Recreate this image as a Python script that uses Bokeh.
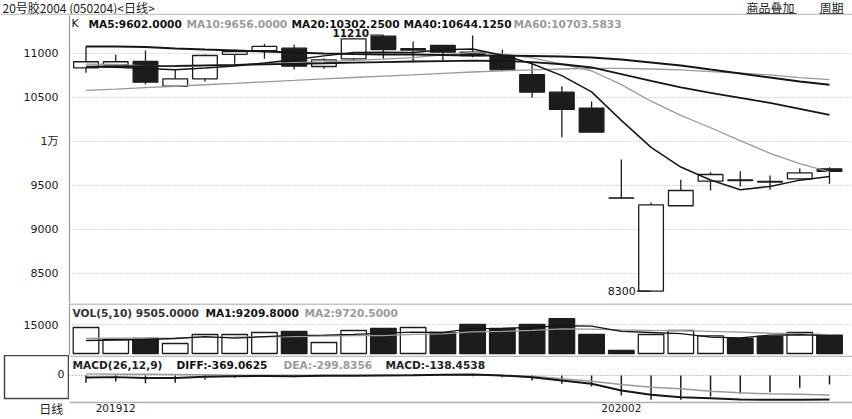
from bokeh.plotting import figure
from bokeh.models import Range1d, FixedTicker, Span, Label, ColumnDataSource
from bokeh.layouts import column, row
from bokeh.embed import file_html
from bokeh.resources import INLINE

# ---------------- data ----------------
bars = list(range(1, 27))
open_ = [10837, 10872, 10909, 10628, 10712, 10989, 11031, 11060, 10852, 10940, 11197, 11038, 11091,
         11015, 10969, 10761, 10560, 10378, 9360, 8300, 9270, 9549, 9565, 9548, 9576, 9690]
high = [11080, 10985, 11034, 10815, 10989, 11045, 11110, 11099, 10945, 11175, 11210, 11136, 11095,
        11204, 11042, 10883, 10628, 10455, 9795, 9307, 9565, 9651, 9662, 9614, 9693, 9708]
low = [10781, 10860, 10651, 10628, 10682, 10883, 10940, 10818, 10826, 10920, 10940, 10901, 10920,
       10958, 10799, 10497, 10049, 10106, 9356, 8300, 9269, 9443, 9489, 9451, 9570, 9520]
close = [10906, 10906, 10674, 10712, 10977, 11023, 11080, 10856, 10928, 11167, 11045, 11054, 11015,
         10977, 10815, 10560, 10364, 10106, 9356, 9280, 9443, 9625, 9555, 9540, 9644, 9660]
ma5 = [10850, 10845, 10830, 10815, 10835, 10859, 10893, 10930, 10973, 11011, 11015, 11010, 11042,
       11051, 10981, 10884, 10749, 10564, 10240, 9933, 9710, 9562, 9452, 9489, 9561, 9602]
ma10 = [10880, 10875, 10860, 10850, 10860, 10870, 10885, 10895, 10905, 10923, 10936, 10952, 10986,
        11013, 10996, 10950, 10879, 10804, 10646, 10458, 10297, 10156, 10010, 9866, 9749, 9656]
ma20 = [10850, 10853, 10856, 10860, 10865, 10870, 10877, 10883, 10889, 10897, 10903, 10909, 10914,
        10918, 10917, 10902, 10878, 10841, 10766, 10690, 10616, 10552, 10496, 10438, 10371, 10302.25]
ma40 = [11080, 11080, 11074, 11057, 11045, 11034, 11023, 11011, 11000, 10994, 10989, 10989, 10983,
        10977, 10977, 10972, 10966, 10955, 10932, 10898, 10864, 10818, 10773, 10727, 10682, 10644.125]
ma60 = [10580, 10595, 10612, 10628, 10645, 10661, 10678, 10694, 10711, 10727, 10743, 10758, 10775,
        10790, 10803, 10815, 10824, 10830, 10830, 10824, 10813, 10795, 10778, 10756, 10727, 10703.5833]
price_ticks = [8500, 9000, 9500, 10000, 10500, 11000]

vol = [13450, 7240, 7760, 5170, 9830, 9830, 10860, 11380, 5690, 11900, 12930, 13450, 10860,
       15000, 12930, 15000, 18040, 9830, 1550, 9830, 11900, 9130, 7760, 8800, 10860, 9505]
vma5 = [6720, 6980, 7240, 7760, 8690, 7966, 8690, 9414, 9518, 9932, 10552, 11070, 10966,
        12828, 13034, 13448, 14366, 14160, 11470, 10850, 10230, 8448, 8034, 9484, 9690, 9209.8]
vma10 = [7800, 7900, 8000, 8100, 8300, 8400, 8600, 8800, 9000, 9311, 9259, 9880, 10190,
         11173, 11483, 12000, 12718, 12563, 12149, 11942, 11839, 11407, 11097, 10477, 10270, 9720.5]
vol_ticks = [15000]

diff = [-30, -25, -40, -40, -20, -13, -7, -10, -5, -2, 1, 5, 12, 15, 0, -26, -77, -128, -231, -297,
        -333, -349, -369, -374, -372, -369.0625]
dea = [25, 20, 18, 15, 10, 5, 3, 2, 2, 3, 5, 8, 12, 13, 0, -10, -51, -87, -138, -180, -205, -241,
       -267, -282, -290, -299.8356]
macd = [-112, -92, -118, -112, -62, -36, -20, -25, -15, -10, -8, -5, -8, -12, -25, -77, -128, -169,
        -308, -374, -374, -323, -282, -256, -190, -138.4538]
macd_ticks = [0]

xtick_pos = [2, 19]
xtick_labels = ["201912", "202002"]
period_label = "日线"
title_text = "20号胶2004 (050204)<日线>"

# ---------------- layout helpers ----------------
W, HT = 852, 419
H0, H1, H2, H3, BOT = 15, 288, 52, 64, 17
LEFT = 69
FONT = "DejaVu Sans, Noto Sans CJK SC"
CJK = "Noto Sans CJK SC"


def bx(px):            # reference x pixel -> bar coordinate
    return 1 + (px - 85.5) / 29.74


def py(px):
    return 10000 + (141 - px) / 0.088


def vy(px):
    return (353 - px) * 15000 / 29


def my(px):
    return (375 - px) / 0.065


def no_align(f):
    if "frame_align" in f.properties():
        f.frame_align = False


xr = Range1d(bx(LEFT), bx(W))


def style_yaxis(ax):
    ax.axis_line_color = "#999999"
    ax.axis_line_width = 1.2
    ax.major_tick_line_color = None
    ax.minor_tick_line_color = None
    ax.major_label_standoff = 5
    ax.major_label_text_font = FONT
    ax.major_label_text_font_size = "11px"
    ax.major_label_text_color = "#1a1a1a"


def style_xaxis(ax, font=FONT, size="10.5px"):
    ax.major_tick_line_color = None
    ax.minor_tick_line_color = None
    ax.major_tick_out = 0
    ax.major_label_standoff = 1
    ax.major_label_text_font = font
    ax.major_label_text_font_size = size
    ax.major_label_text_color = "#222222"


def make_fig(h, yr, bottom=0, xaxis=False, width=W, left=LEFT, yaxis=True):
    f = figure(width=width, height=h, x_range=xr, y_range=yr, output_backend="svg",
               toolbar_location=None, min_border_left=left, min_border_right=0,
               min_border_top=0, min_border_bottom=bottom,
               x_axis_location="below" if xaxis else None,
               y_axis_location="left" if yaxis else None)
    f.outline_line_color = None
    f.xgrid.visible = False
    if yaxis:
        style_yaxis(f.yaxis[0])
    f.ygrid.grid_line_color = "#b5b5b5"
    f.ygrid.grid_line_dash = "1 2"
    f.ygrid.grid_line_width = 1
    return f


def lab(f, x, y, text, color="#111111", bold=True, size="10.6px", align="left", font=FONT,
        x_offset=0):
    f.add_layout(Label(x=x, y=y, text=text, text_color=color, text_font=font,
                       text_font_size=size, text_font_style="bold" if bold else "normal",
                       text_align=align, text_baseline="middle", x_offset=x_offset))


# ---------------- header ----------------
hdr = figure(width=W, height=H0, y_range=Range1d(H0, 0), x_range=Range1d(0, W),
             output_backend="svg", toolbar_location=None, min_border=0,
             min_border_left=0, min_border_right=0, min_border_top=0, min_border_bottom=0,
             x_axis_location=None, y_axis_location=None)
if "frame_align" in hdr.properties():
    hdr.frame_align = False
else:
    hdr.min_border_left = LEFT
    hdr.x_range = Range1d(LEFT, W)
hdr.outline_line_color = None
hdr.grid.visible = False
for tx, t in [(2, title_text), (746, "商品叠加"), (819, "周期")]:
    hdr.add_layout(Label(x=tx, y=7.4, text=t, text_font=CJK, text_font_size="12px",
                         text_color="#1a1a1a", text_baseline="middle"))
hdr.segment(x0=[746, 819], y0=[13, 13], x1=[796, 843], y1=[13, 13],
            line_color="#222222", line_width=1)
hdr.add_layout(Span(location=14.2, dimension="width", line_color="#c4c4c4", line_width=2))

# ---------------- price panel ----------------
p1 = make_fig(H1, Range1d(py(H0 + H1), py(H0)))
p1.yaxis.ticker = FixedTicker(ticks=price_ticks)
p1.ygrid.ticker = FixedTicker(ticks=price_ticks)
p1.yaxis.major_label_overrides = {10000: "1万"}

up = [c >= o for o, c in zip(open_, close)]
src = ColumnDataSource(dict(
    x=bars, h=high, l=low,
    top=[max(o, c) for o, c in zip(open_, close)],
    bot=[min(o, c) for o, c in zip(open_, close)],
    fill=["white" if u else "#1c1c1c" for u in up],
))
p1.segment(x0="x", y0="h", x1="x", y1="l", source=src, line_color="#1c1c1c", line_width=1.3)
p1.vbar(x="x", width=0.83, top="top", bottom="bot", source=src, fill_color="fill",
        line_color="#1c1c1c", line_width=1.3)

p1.line(bars, ma60, line_color="#9a9a9a", line_width=1.3)
p1.line(bars, ma10, line_color="#9a9a9a", line_width=1.3)
p1.line(bars, ma40, line_color="#161616", line_width=1.9)
p1.line(bars, ma20, line_color="#161616", line_width=1.8)
p1.line(bars, ma5, line_color="#161616", line_width=1.5)

ih = high.index(max(high))
il = low.index(min(low))
p1.segment(x0=[bars[ih] - 0.45], y0=[high[ih]], x1=[bars[ih]], y1=[high[ih]], line_color="#1c1c1c", line_width=1.2)
p1.segment(x0=[bars[il] - 0.48], y0=[low[il]], x1=[bars[il]], y1=[low[il]], line_color="#1c1c1c", line_width=1.2)
p1.add_layout(Label(x=bars[ih] - 0.45, y=high[ih], text=f"{high[ih]:.0f}", text_font=FONT,
                    text_font_size="10.5px", text_font_style="bold", text_color="#111111",
                    text_align="right", text_baseline="middle", x_offset=-1, y_offset=2))
p1.add_layout(Label(x=bars[il] - 0.48, y=low[il], text=f"{low[il]:.0f}", text_font=FONT,
                    text_font_size="11px", text_color="#111111",
                    text_align="right", text_baseline="middle", x_offset=-1))

ly = py(23)
lab(p1, bx(71), ly, "K", bold=False, size="11px")
lab(p1, bx(88), ly, f"MA5:{ma5[-1]:.4f}")
lab(p1, bx(186), ly, f"MA10:{ma10[-1]:.4f}", color="#9a9a9a")
lab(p1, bx(291), ly, f"MA20:{ma20[-1]:.4f}")
lab(p1, bx(403), ly, f"MA40:{ma40[-1]:.4f}")
lab(p1, bx(513), ly, f"MA60:{ma60[-1]:.4f}", color="#9a9a9a")

# ---------------- volume panel ----------------
p2 = make_fig(H2, Range1d(vy(H0 + H1 + H2), vy(H0 + H1)))
p2.yaxis.ticker = FixedTicker(ticks=vol_ticks)
p2.ygrid.ticker = FixedTicker(ticks=vol_ticks)
vsrc = ColumnDataSource(dict(x=bars, v=vol, fill=["white" if u else "#1c1c1c" for u in up]))
p2.vbar(x="x", width=0.86, top="v", bottom=0, source=vsrc, fill_color="fill",
        line_color="#1c1c1c", line_width=1.3)
p2.line(bars, vma10, line_color="#9a9a9a", line_width=1.3)
p2.line(bars, vma5, line_color="#161616", line_width=1.3)
p2.add_layout(Span(location=vy(303.6), dimension="width", line_color="#c4c4c4", line_width=2))
vly = vy(312)
lab(p2, bx(72), vly, f"VOL(5,10) {vol[-1]:.4f}", color="#333333")
lab(p2, bx(205), vly, f"MA1:{vma5[-1]:.4f}")
lab(p2, bx(304), vly, f"MA2:{vma10[-1]:.4f}", color="#9a9a9a")

# ---------------- MACD panel (box on the left + chart) ----------------
yr3 = Range1d(my(HT - BOT), my(H0 + H1 + H2))
p3 = make_fig(H3, yr3, bottom=BOT, xaxis=True, width=W - LEFT, left=0, yaxis=False)
no_align(p3)
p3.ygrid.ticker = FixedTicker(ticks=macd_ticks)
p3.ygrid.grid_line_color = "#8a8a8a"
xa = p3.xaxis[0]
xa.ticker = FixedTicker(ticks=xtick_pos)
xa.major_label_overrides = {k: v for k, v in zip(xtick_pos, xtick_labels)}
xa.axis_line_color = "#b0b0b0"
xa.axis_line_width = 1.5
style_xaxis(xa)

p3.segment(x0=bars, y0=[0] * len(bars), x1=bars, y1=macd, line_color="#1c1c1c", line_width=1.5)
p3.line(bars, dea, line_color="#9a9a9a", line_width=1.5)
p3.line(bars, diff, line_color="#161616", line_width=2)
p3.add_layout(Span(location=my(355.8), dimension="width", line_color="#bdbdbd", line_width=1.5))
mly = my(364)
lab(p3, bx(72), mly, "MACD(26,12,9)", color="#222222")
lab(p3, bx(176), mly, f"DIFF:{diff[-1]:.4f}")
lab(p3, bx(283), mly, f"DEA:{dea[-1]:.4f}", color="#9a9a9a")
lab(p3, bx(385), mly, f"MACD:{macd[-1]:.4f}", color="#222222")

# left framed box; its right edge is the panel's vertical line, it holds the zero tick
bxf = figure(width=LEFT, height=H3, x_range=Range1d(0, 1), y_range=yr3, output_backend="svg",
             toolbar_location=None, min_border_left=4, min_border_right=0,
             min_border_top=0, min_border_bottom=BOT,
             x_axis_location="below", y_axis_location=None)
no_align(bxf)
bxf.grid.visible = False
bxf.outline_line_color = "#444444"
bxf.outline_line_width = 1.5
for t in macd_ticks:
    lab(bxf, 1, t, f"{t}", color="#1a1a1a", bold=False, size="11px", align="right", x_offset=-5)
bxa = bxf.xaxis[0]
bxa.ticker = FixedTicker(ticks=[0.72])
bxa.major_label_overrides = {0.72: period_label}
bxa.axis_line_color = None
style_xaxis(bxa, font=CJK, size="12px")

layout = column(hdr, p1, p2, row(bxf, p3, spacing=0), spacing=0)
open("out.html", "w").write(file_html(layout, INLINE))
